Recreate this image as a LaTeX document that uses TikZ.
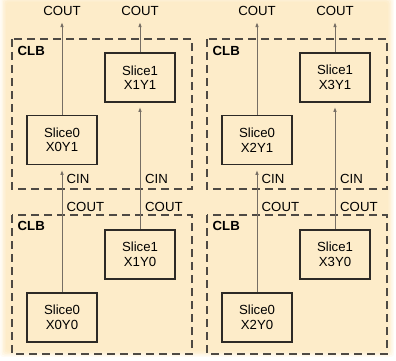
\documentclass[tikz,border=0pt]{standalone}
\usepackage{fontspec}
\setmainfont{Liberation Sans}
\usetikzlibrary{arrows.meta}

\definecolor{panel}{RGB}{253,236,201}
\definecolor{wirec}{RGB}{118,110,100}
\definecolor{ink}{RGB}{45,42,38}
\definecolor{dashc}{RGB}{78,74,68}

\begin{document}
\begin{tikzpicture}[x=1pt, y=-1pt,
	slice/.style={draw=ink, line width=1.8pt, minimum width=70pt, minimum height=49pt, align=center, inner sep=0pt},
	clb/.style={draw=dashc, line width=1.5pt, dash pattern=on 8pt off 5pt},
	carry/.style={draw=wirec, line width=1pt, -{Latex[length=5pt, width=3.6pt]}},
	lbl/.style={inner sep=0pt}]

\def\width{396}
\def\height{361}

\fontsize{13.2}{14.5}\selectfont
\path [use as bounding box] (0,0) rectangle (\width,\height);

% PANEL (soft edge)
\foreach \d/\o in {0/0.2, 1.5/0.3, 3/0.45, 4.5/0.65, 6/1}
	\fill [panel, opacity=\o, rounded corners=3pt] (\d,-4+\d) rectangle (394-\d,357-\d);

% CLB FRAMES
\foreach \ox in {0,195} {
	\draw [clb] (\ox+12,39) rectangle (\ox+192,189);
	\draw [clb] (\ox+12,215) rectangle (\ox+192,354);
	\node [lbl, anchor=base west, font=\bfseries] (clbt\ox) at (\ox+17.5,55.5) {CLB};
	\node [lbl, anchor=base west, font=\bfseries] (clbb\ox) at (\ox+17.5,230.5) {CLB};
}

% SLICES
\foreach \a/\b/\ox in {0/1/0, 2/3/195} {
	\node [slice] (s\a y1) at (\ox+62,140) {Slice0\\X\a Y1};
	\node [slice] (s\b y1) at (\ox+140,77.5) {Slice1\\X\b Y1};
	\node [slice] (s\a y0) at (\ox+62,317.5) {Slice0\\X\a Y0};
	\node [slice] (s\b y0) at (\ox+140,254.5) {Slice1\\X\b Y0};

	% carry out of the column
	\node [lbl, anchor=base] (cout\a) at (\ox+62,15.7) {COUT};
	\node [lbl, anchor=base] (cout\b) at (\ox+140,15.7) {COUT};
	\draw [carry, shorten >=6pt] (s\a y1.north) -- (cout\a.south);
	\draw [carry, shorten >=6pt] (s\b y1.north) -- (cout\b.south);

	% carry chain between CLBs
	\draw [carry, shorten >=4.5pt] (s\a y0.north) -- (s\a y1.south);
	\draw [carry, shorten >=4pt] (s\b y0.north) -- (s\b y1.south);
	\node [lbl, anchor=west] (cin\a) at (\ox+66.5,179.3) {CIN};
	\node [lbl, anchor=west] (cin\b) at (\ox+145,179.3) {CIN};
	\node [lbl, anchor=west] (cout\a m) at (\ox+66.5,207.3) {COUT};
	\node [lbl, anchor=west] (cout\b m) at (\ox+145,207.3) {COUT};
}

\end{tikzpicture}
\end{document}
